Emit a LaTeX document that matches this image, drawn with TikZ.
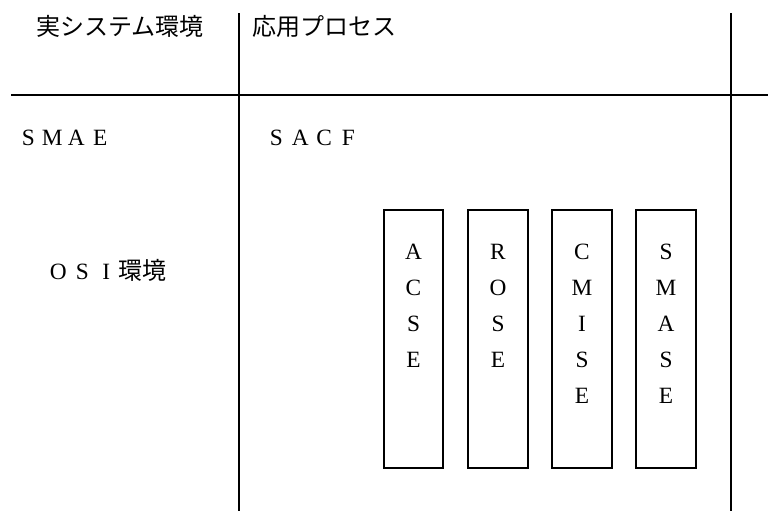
\documentclass[tikz,border=0pt]{standalone}
\usepackage{fontspec}
\setmainfont{Liberation Serif}
\newfontfamily\jpfont{Noto Sans CJK JP}
\newcommand\fwc[1]{\makebox[18pt]{#1}}
\begin{document}
\begin{tikzpicture}[x=0.75pt,y=-0.75pt,
  rule/.style={line width=1.6pt},
  jplbl/.style={font=\jpfont\fontsize{18}{20}\selectfont, anchor=west, inner sep=0pt},
  latlbl/.style={font=\fontsize{17.5}{20}\selectfont, anchor=west, inner sep=0pt},
  colbox/.style={draw, line width=1.5pt, minimum width=44.5pt, minimum height=194pt, inner sep=0pt},
  boxletter/.style={font=\fontsize{17.5}{20}\selectfont, inner sep=0pt}]
\useasboundingbox (0,0) rectangle (768,511);
% frame lines
\coordinate (v1t) at (239,13);
\coordinate (v1b) at (239,511);
\coordinate (v2t) at (731,13);
\coordinate (v2b) at (731,511);
\coordinate (hl) at (11,95);
\coordinate (hr) at (768,95);
\draw[rule] (v1t) -- (v1b);
\draw[rule] (v2t) -- (v2b);
\draw[rule] (hl) -- (hr);
% labels
\node[jplbl] (real) at (36,26) {実システム環境};
\node[jplbl] (app) at (252,26) {応用プロセス};
\node[latlbl] (smae) at (16,138) {\fwc{S}\fwc{M}\fwc{A}\fwc{E}};
\node[latlbl] (sacf) at (264,138) {\fwc{S}\fwc{A}\fwc{C}\fwc{F}};
\node[latlbl] (osi) at (46,270) {\fwc{O}\fwc{S}\fwc{I}{\jpfont\fontsize{18}{20}\selectfont 環境}};
% boxes
\node[colbox] (acse) at (413.5,339) {};
\node[colbox] (rose) at (498,339) {};
\node[colbox] (cmise) at (582,339) {};
\node[colbox] (smase) at (666,339) {};
\foreach \L [count=\i] in {A,C,S,E}
  \node[boxletter] (acse-\i) at (acse.center |- 0,216+36*\i) {\L};
\foreach \L [count=\i] in {R,O,S,E}
  \node[boxletter] (rose-\i) at (rose.center |- 0,216+36*\i) {\L};
\foreach \L [count=\i] in {C,M,I,S,E}
  \node[boxletter] (cmise-\i) at (cmise.center |- 0,216+36*\i) {\L};
\foreach \L [count=\i] in {S,M,A,S,E}
  \node[boxletter] (smase-\i) at (smase.center |- 0,216+36*\i) {\L};
\end{tikzpicture}
\end{document}
